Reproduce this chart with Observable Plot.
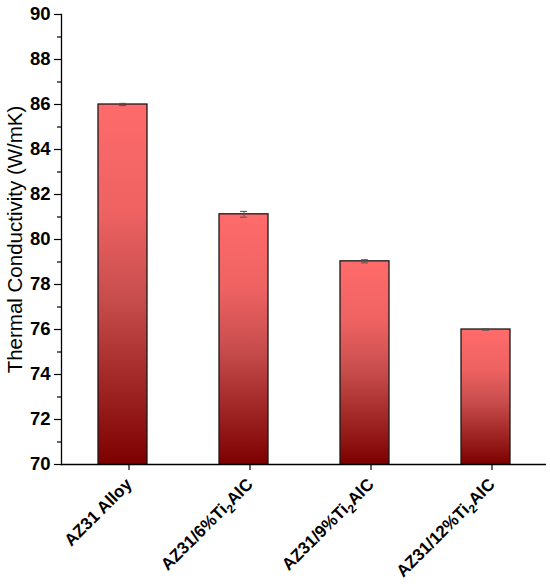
<!DOCTYPE html>
<html>
<head>
<meta charset="utf-8">
<script src="https://cdn.jsdelivr.net/npm/d3@7"></script>
<script src="https://cdn.jsdelivr.net/npm/@observablehq/plot@0.6"></script>
<style>
  body { margin: 0; background: #fff; }
  svg text { font-family: "Liberation Sans", Arial, sans-serif; }
</style>
</head>
<body>
<div id="chart"></div>
<script>
const categories = ["AZ31 Alloy", "AZ31/6%Ti2AlC", "AZ31/9%Ti2AlC", "AZ31/12%Ti2AlC"];
const values = [86.0, 81.12, 79.03, 76.0];
const errors = [0.05, 0.13, 0.07, 0.03];
const majorTicks = [70, 72, 74, 76, 78, 80, 82, 84, 86, 88, 90];
const minorTicks = [71, 73, 75, 77, 79, 81, 83, 85, 87, 89];
const baseline = 70;

const data = categories.map((c, i) => ({cat: c, value: values[i], err: errors[i]}));

const chart = Plot.plot({
  width: 550,
  height: 584,
  marginLeft: 61,
  marginRight: 4,
  marginTop: 14,
  marginBottom: 120,
  style: {fontFamily: "Liberation Sans, Arial, sans-serif", background: "#fff"},
  x: {domain: categories, padding: 0},
  y: {domain: [70, 90]},
  marks: [
    Plot.barY(data, {x: "cat", y1: () => baseline, y2: "value", fill: "url(#barGrad)", stroke: "#1a1a1a", strokeWidth: 1.3, insetLeft: 36, insetRight: 36}),
    Plot.ruleX(data, {x: "cat", y1: d => d.value - d.err, y2: d => d.value + d.err, stroke: "#555", strokeWidth: 1}),
    Plot.tickY(data, {x: "cat", y: d => d.value - d.err, stroke: "#555", strokeWidth: 1, insetLeft: 57, insetRight: 57}),
    Plot.tickY(data, {x: "cat", y: d => d.value + d.err, stroke: "#555", strokeWidth: 1, insetLeft: 57, insetRight: 57}),
    Plot.ruleY([baseline], {stroke: "#000", strokeWidth: 1.3}),
    Plot.frame({anchor: "left", stroke: "#000", strokeWidth: 1.3}),
    Plot.axisY(minorTicks, {tickSize: 4, text: null, label: null, strokeWidth: 1.2}),
    Plot.axisY(majorTicks, {tickSize: 7, tickPadding: 4, fontSize: 18.5, fontWeight: "bold", strokeWidth: 1.2,
      label: "Thermal Conductivity (W/mK)", labelAnchor: "center", labelArrow: "none", labelOffset: 54}),
    Plot.axisX({tickSize: 6, tickPadding: 11, dx: 6, tickRotate: -45, fontSize: 17, fontWeight: "bold", label: null, strokeWidth: 1.2})
  ]
});

// gradient definition for bars
const ns = "http://www.w3.org/2000/svg";
const defs = document.createElementNS(ns, "defs");
const grad = document.createElementNS(ns, "linearGradient");
grad.setAttribute("id", "barGrad");
grad.setAttribute("x1", "0"); grad.setAttribute("y1", "0");
grad.setAttribute("x2", "0"); grad.setAttribute("y2", "1");
[[0, "#FF6B6B"], [0.3, "#EE6262"], [0.55, "#C64C4C"], [0.78, "#A02626"], [1, "#7D0000"]].forEach(([o, c]) => {
  const s = document.createElementNS(ns, "stop");
  s.setAttribute("offset", o);
  s.setAttribute("stop-color", c);
  grad.appendChild(s);
});
defs.appendChild(grad);
chart.insertBefore(defs, chart.firstChild);

// y-axis label styling
chart.querySelectorAll('[aria-label="y-axis label"]').forEach(g => {
  g.setAttribute("font-size", "20.5");
  g.style.fontSize = "20.5px";
  g.setAttribute("font-weight", "normal");
  g.querySelectorAll("text").forEach(t => { t.style.fontSize = "20.5px"; t.style.fontWeight = "normal"; });
});

// subscript the "2" in Ti2AlC
chart.querySelectorAll('[aria-label="x-axis tick label"] text').forEach(t => {
  const s = t.textContent;
  const m = s.match(/^(.*Ti)2(AlC)$/);
  if (!m) return;
  while (t.firstChild) t.removeChild(t.firstChild);
  const a = document.createElementNS(ns, "tspan"); a.textContent = m[1];
  const b = document.createElementNS(ns, "tspan"); b.textContent = "2";
  b.setAttribute("dy", "4.5"); b.setAttribute("font-size", "12");
  const c = document.createElementNS(ns, "tspan"); c.textContent = m[2];
  c.setAttribute("dy", "-4.5");
  t.appendChild(a); t.appendChild(b); t.appendChild(c);
});

document.getElementById("chart").appendChild(chart);
</script>
</body>
</html>
